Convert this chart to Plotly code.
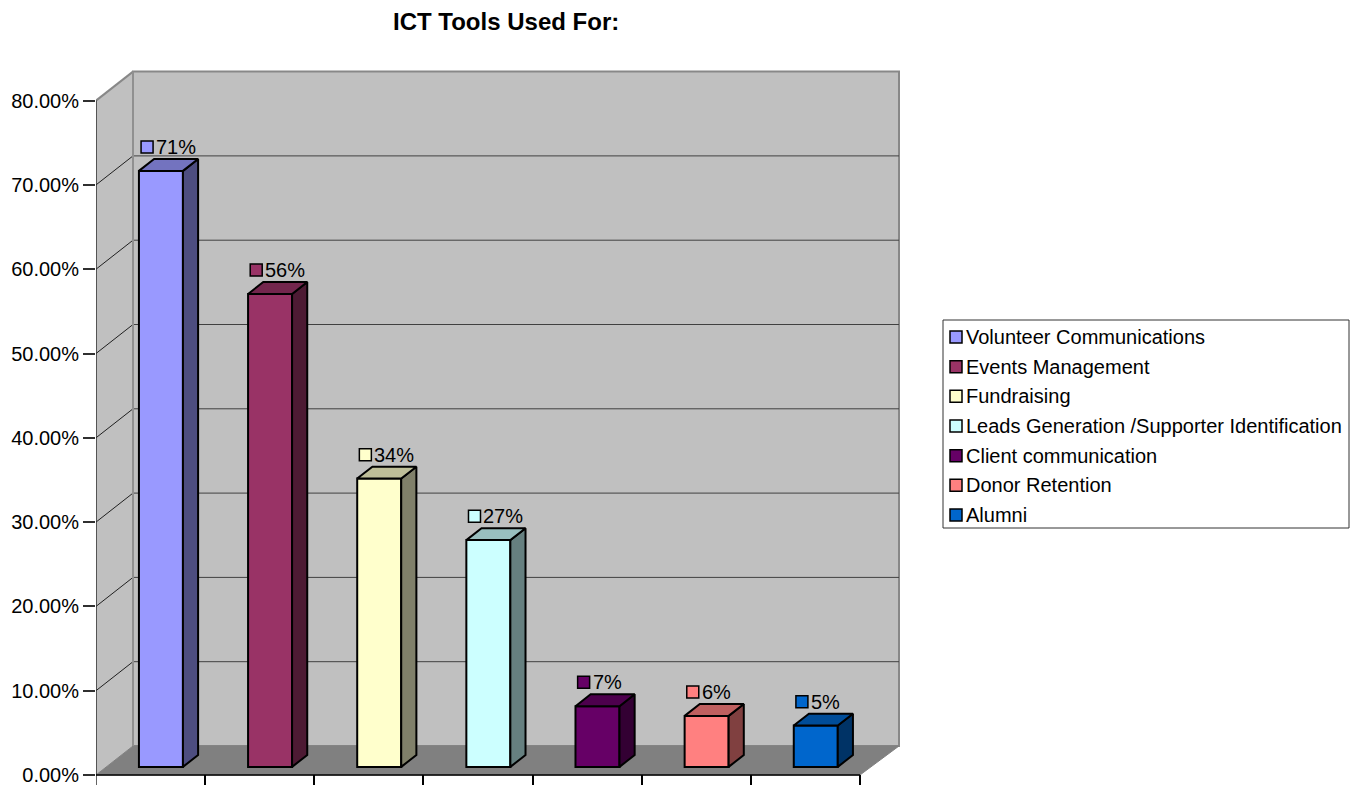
import plotly.graph_objects as go

# ---------------- data ----------------
categories = ["Volunteer Communications", "Events Management", "Fundraising",
              "Leads Generation /Supporter Identification", "Client communication",
              "Donor Retention", "Alumni"]
values = [70.7, 56.1, 34.2, 26.9, 7.2, 6.05, 4.9]
front_colors = ["#9999FF", "#993366", "#FFFFCC", "#CCFFFF", "#660066", "#FF8080", "#0066CC"]
top_colors = ["#7373BF", "#73264D", "#BFBF99", "#99BFBF", "#4D004D", "#BF6060", "#004D99"]
side_colors = ["#4D4D80", "#4D1A33", "#80806A", "#668080", "#330033", "#804040", "#003366"]
y_ticks = [0, 10, 20, 30, 40, 50, 60, 70, 80]
y_tick_labels = ["0.00%", "10.00%", "20.00%", "30.00%", "40.00%", "50.00%",
                 "60.00%", "70.00%", "80.00%"]
title_text = "ICT Tools Used For:"

# ---------------- geometry (pixels -> axis units) ----------------
W, H = 1350, 785
L, R, T, B = 96, 900, 60, 785          # plot area in pixels
XU = 109.14                            # px per category
YU = 8.43                              # px per percent
Y0PX = 775                             # pixel of 0% on the front plane
xr = [-0.5, -0.5 + (R - L) / XU]
yr = [(Y0PX - B) / YU, (Y0PX - T) / YU]

DX, DY = 37 / XU, 29 / YU              # full depth (front -> back wall)
BF = 0.28                              # bar front depth fraction
BD = 0.41                              # bar depth fraction
BW = 44 / XU                           # bar width
YMAX = 80
X_BACK_R = -0.5 + (899 - L) / XU
X_FRONT_R = -0.5 + len(categories)


def px_x(p):
    return (p - L) / (R - L)


def px_y(p):
    return (B - p) / (B - T)


FONT = "Liberation Sans, Arial, sans-serif"
fig = go.Figure()

shapes = []
# left wall
lw = [(-0.5, 0), (-0.5 + DX, DY), (-0.5 + DX, YMAX + DY), (-0.5, YMAX)]
shapes.append(dict(type="path", layer="below", xref="x", yref="y",
                   path="M" + " L".join(f"{a},{b}" for a, b in lw) + " Z",
                   fillcolor="#C0C0C0", line=dict(width=0)))
# back wall
shapes.append(dict(type="rect", layer="below", xref="x", yref="y",
                   x0=-0.5 + DX, y0=DY, x1=X_BACK_R, y1=YMAX + DY,
                   fillcolor="#C0C0C0", line=dict(color="#888888", width=2)))
# floor
fl = [(-0.5, 0), (-0.5 + DX, DY), (X_BACK_R, DY), (X_FRONT_R, 0)]
shapes.append(dict(type="path", layer="below", xref="x", yref="y",
                   path="M" + " L".join(f"{a},{b}" for a, b in fl) + " Z",
                   fillcolor="#808080", line=dict(color="#808080", width=1)))
# gridlines
for v in y_ticks[1:-1]:
    shapes.append(dict(type="line", layer="below", xref="x", yref="y",
                       x0=-0.5 + DX, y0=v + DY, x1=X_BACK_R, y1=v + DY,
                       line=dict(color="#404040", width=1)))
for v in y_ticks[1:]:
    shapes.append(dict(type="line", layer="below", xref="x", yref="y",
                       x0=-0.5, y0=v, x1=-0.5 + DX, y1=v + DY,
                       line=dict(color="#202020" if v < YMAX else "#888888",
                                 width=1 if v < YMAX else 2)))
# back wall left edge
shapes.append(dict(type="line", layer="below", xref="x", yref="y",
                   x0=-0.5 + DX, y0=DY, x1=-0.5 + DX, y1=YMAX + DY,
                   line=dict(color="#909090", width=2)))
# front axis + base line
shapes.append(dict(type="line", layer="below", xref="x", yref="y",
                   x0=-0.5, y0=yr[0], x1=-0.5, y1=YMAX,
                   line=dict(color="#303030", width=1.5)))
shapes.append(dict(type="line", layer="below", xref="x", yref="y",
                   x0=-0.5, y0=0, x1=X_FRONT_R, y1=0,
                   line=dict(color="#000000", width=1.5)))

# ---------------- bars ----------------
xs = [i + BF * DX for i in range(len(categories))]
base = BF * DY
fig.add_trace(go.Bar(x=xs, y=values, base=[base] * len(values), width=BW,
                     marker=dict(color=front_colors, line=dict(color="black", width=2)),
                     showlegend=False, hoverinfo="skip"))

for i, v in enumerate(values):
    xl = xs[i] - BW / 2
    xrr = xs[i] + BW / 2
    yb = base
    yt = base + v
    ddx, ddy = BD * DX, BD * DY
    # side face
    fig.add_trace(go.Scatter(
        x=[xrr, xrr + ddx, xrr + ddx, xrr, xrr],
        y=[yb, yb + ddy, yt + ddy, yt, yb],
        fill="toself", fillcolor=side_colors[i], mode="lines",
        line=dict(color="black", width=2), showlegend=False, hoverinfo="skip"))
    # top face
    fig.add_trace(go.Scatter(
        x=[xl, xl + ddx, xrr + ddx, xrr, xl],
        y=[yt, yt + ddy, yt + ddy, yt, yt],
        fill="toself", fillcolor=top_colors[i], mode="lines",
        line=dict(color="black", width=2), showlegend=False, hoverinfo="skip"))

# ---------------- data labels ----------------
lab_x = [i - 3.5 / XU for i in range(len(categories))]
lab_y = [v + 32 / YU for v in values]
fig.add_trace(go.Scatter(x=lab_x, y=lab_y, mode="markers",
                         marker=dict(symbol="square", size=12, color=front_colors,
                                     line=dict(color="black", width=1.5)),
                         showlegend=False, hoverinfo="skip", cliponaxis=False))
annotations = []
for i, v in enumerate(values):
    annotations.append(dict(x=lab_x[i], y=lab_y[i], xref="x", yref="y",
                            text=f"{v:.0f}%", showarrow=False, xanchor="left",
                            yanchor="middle", xshift=7,
                            font=dict(family=FONT, size=20, color="black")))

# ---------------- title ----------------
annotations.append(dict(x=px_x(506), y=px_y(22), xref="paper", yref="paper",
                        text=f"<b>{title_text}</b>", showarrow=False,
                        xanchor="center", yanchor="middle",
                        font=dict(family=FONT, size=24, color="black")))

# ---------------- legend (manual) ----------------
shapes.append(dict(type="rect", xref="paper", yref="paper",
                   x0=px_x(943), x1=px_x(1349), y0=px_y(528), y1=px_y(320),
                   fillcolor="white", line=dict(color="#333333", width=1), layer="above"))
for i, (c, col) in enumerate(zip(categories, front_colors)):
    cy = 337 + 29.67 * i
    shapes.append(dict(type="rect", xref="paper", yref="paper",
                       x0=px_x(950), x1=px_x(962), y0=px_y(cy + 6), y1=px_y(cy - 6),
                       fillcolor=col, line=dict(color="black", width=1.5), layer="above"))
    annotations.append(dict(x=px_x(964), y=px_y(cy), xref="paper", yref="paper",
                            text=c, showarrow=False, xanchor="left", yanchor="middle",
                            font=dict(family=FONT, size=20, color="black")))

fig.update_layout(
    width=W, height=H,
    margin=dict(l=L, r=W - R, t=T, b=H - B, pad=0),
    paper_bgcolor="white", plot_bgcolor="white",
    barmode="overlay", showlegend=False,
    shapes=shapes, annotations=annotations,
    font=dict(family=FONT, size=20, color="black"),
    xaxis=dict(range=xr, showgrid=False, zeroline=False, showline=False,
               tickvals=[i - 0.5 for i in range(len(categories) + 1)],
               ticks="inside", ticklen=10, tickcolor="black", tickwidth=1.5,
               showticklabels=False, fixedrange=True),
    yaxis=dict(range=yr, showgrid=False, zeroline=False, showline=False,
               tickmode="array", tickvals=y_ticks, ticktext=y_tick_labels,
               ticklabeloverflow="allow",
               ticks="outside", ticklen=12, tickcolor="#303030", tickwidth=1.5,
               tickfont=dict(family=FONT, size=20, color="black"), fixedrange=True),
)

fig.write_html("out.html")
